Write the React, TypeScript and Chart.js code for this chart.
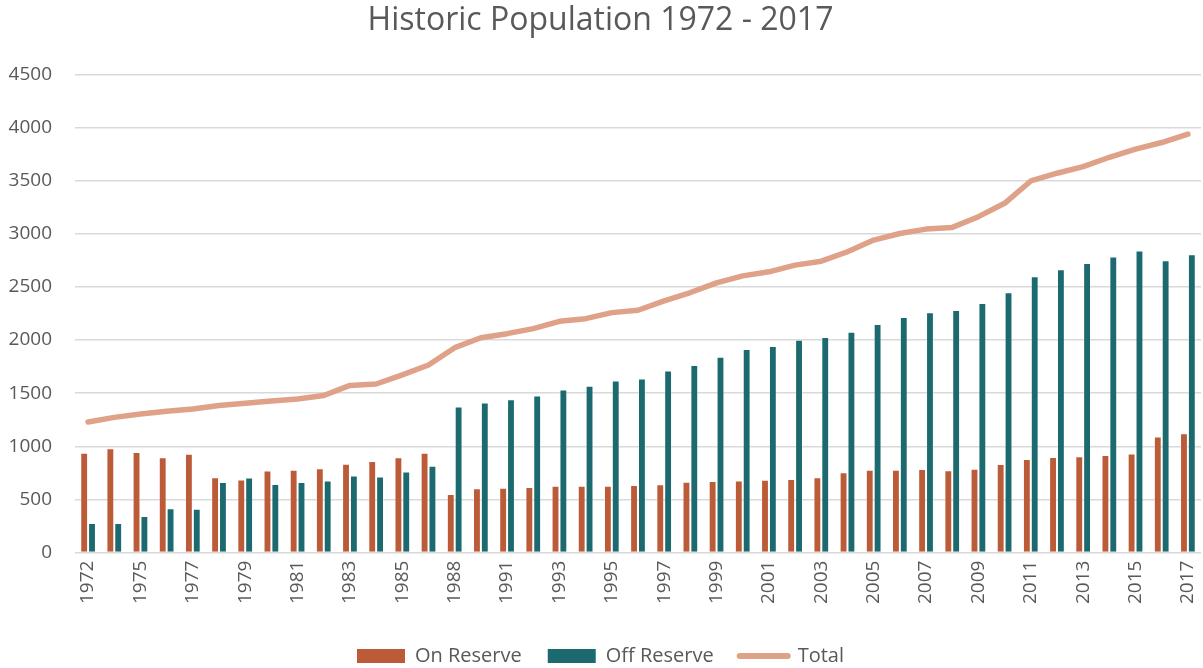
import React, { useEffect, useRef } from "react";
import { Chart, registerables } from "chart.js";

Chart.register(...registerables);

const years: string[] = [
  "1972", "1974", "1975", "1976", "1977", "1978", "1979", "1980", "1981", "1982",
  "1983", "1984", "1985", "1986", "1988", "1989", "1991", "1992", "1993", "1994",
  "1995", "1996", "1997", "1998", "1999", "2000", "2001", "2002", "2003", "2004",
  "2005", "2006", "2007", "2008", "2009", "2010", "2011", "2012", "2013", "2014",
  "2015", "2016", "2017",
];

const onReserve: number[] = [
  940, 981, 946, 896, 930, 709, 687, 772, 779, 794,
  836, 861, 896, 940, 551, 604, 610, 616, 629, 629,
  629, 635, 642, 667, 673, 679, 686, 692, 708, 755,
  780, 780, 786, 774, 789, 833, 881, 899, 906, 918,
  931, 1091, 1123,
];

const offReserve: number[] = [
  279, 279, 345, 418, 411, 665, 706, 646, 665, 677,
  725, 715, 763, 817, 1374, 1412, 1443, 1478, 1535, 1569,
  1620, 1639, 1714, 1764, 1843, 1915, 1944, 2003, 2028, 2079,
  2151, 2217, 2261, 2283, 2349, 2450, 2601, 2667, 2724, 2786,
  2843, 2752, 2808,
];

const total: number[] = [
  1228, 1272, 1304, 1329, 1351, 1383, 1405, 1427, 1446, 1478,
  1573, 1586, 1672, 1765, 1928, 2022, 2060, 2107, 2176, 2201,
  2258, 2280, 2368, 2447, 2538, 2604, 2642, 2705, 2742, 2831,
  2941, 3003, 3044, 3060, 3161, 3287, 3497, 3570, 3632, 3720,
  3796, 3859, 3938,
];

const seriesNames = ["On Reserve", "Off Reserve", "Total"];
const yMax = 4500;
const yStep = 500;

const ORANGE = "#BC5B37";
const TEAL = "#1C6A70";
const SALMON = "#E0A189";
const TEXT = "#595959";
const FONT = "'Open Sans', 'Liberation Sans', sans-serif";

export default function App() {
  const canvasRef = useRef<HTMLCanvasElement | null>(null);

  useEffect(() => {
    document.body.style.margin = "0";
    const canvas = canvasRef.current;
    if (!canvas) return;
    const chart = new Chart(canvas, {
      type: "bar",
      data: {
        labels: years,
        datasets: [
          {
            type: "bar",
            label: seriesNames[0],
            data: onReserve,
            backgroundColor: ORANGE,
            borderColor: "rgba(255,255,255,0.25)",
            borderWidth: 1,
            categoryPercentage: 0.6,
            barPercentage: 1.0,
            order: 2,
          },
          {
            type: "bar",
            label: seriesNames[1],
            data: offReserve,
            backgroundColor: TEAL,
            borderColor: "rgba(255,255,255,0.25)",
            borderWidth: 1,
            categoryPercentage: 0.6,
            barPercentage: 1.0,
            order: 2,
          },
          {
            type: "line",
            label: seriesNames[2],
            data: total,
            borderColor: SALMON,
            backgroundColor: SALMON,
            borderWidth: 5.5,
            borderCapStyle: "round",
            borderJoinStyle: "round",
            pointRadius: 0,
            tension: 0,
            fill: false,
            order: 1,
          },
        ],
      },
      options: {
        responsive: true,
        maintainAspectRatio: false,
        animation: false,
        layout: { padding: { left: 0, right: 2, top: 0, bottom: -8 } },
        plugins: {
          title: {
            display: true,
            text: "Historic Population 1972 - 2017",
            color: TEXT,
            font: { family: FONT, size: 32, weight: "normal" },
            padding: { top: 2, bottom: 34 },
          },
          legend: {
            position: "bottom",
            labels: {
              color: TEXT,
              font: { family: FONT, size: 20 },
              usePointStyle: true,
              pointStyleWidth: 48,
              boxHeight: 14,
              padding: 26,
              generateLabels: (chart: any) =>
                chart.data.datasets.map((ds: any, i: number) => ({
                  text: ds.label,
                  fillStyle: i === 2 ? SALMON : ds.backgroundColor,
                  strokeStyle: i === 2 ? SALMON : ds.backgroundColor,
                  lineWidth: i === 2 ? 6 : 0,
                  lineCap: "round",
                  pointStyle: i === 2 ? "line" : "rect",
                  hidden: false,
                  datasetIndex: i,
                  fontColor: TEXT,
                })),
            },
          },
          tooltip: { enabled: false },
        },
        scales: {
          x: {
            grid: { display: false, drawTicks: false },
            border: { display: false },
            ticks: {
              color: TEXT,
              font: { family: FONT, size: 19 },
              autoSkip: false,
              maxRotation: 90,
              minRotation: 90,
              padding: 8,
              callback: (_v: any, i: number) => (i % 2 === 0 ? years[i] : ""),
            },
            afterFit: (scale: any) => {
              scale.paddingRight = 0;
              scale.paddingLeft = 0;
              scale.height += 8;
            },
          },
          y: {
            min: 0,
            max: yMax,
            grid: { color: "#D9D9D9", lineWidth: 1.5, drawTicks: false },
            border: { display: false },
            ticks: {
              stepSize: yStep,
              color: TEXT,
              font: { family: FONT, size: 19 },
              padding: 23,
              callback: (v: any) => String(v),
            },
            afterFit: (scale: any) => {
              scale.width = 75;
            },
          },
        },
      },
    });
    return () => chart.destroy();
  }, []);

  return (
    <div style={{ position: "fixed", left: 0, top: 0, width: 1203, height: 668, background: "#fff" }}>
      <canvas ref={canvasRef} />
    </div>
  );
}
